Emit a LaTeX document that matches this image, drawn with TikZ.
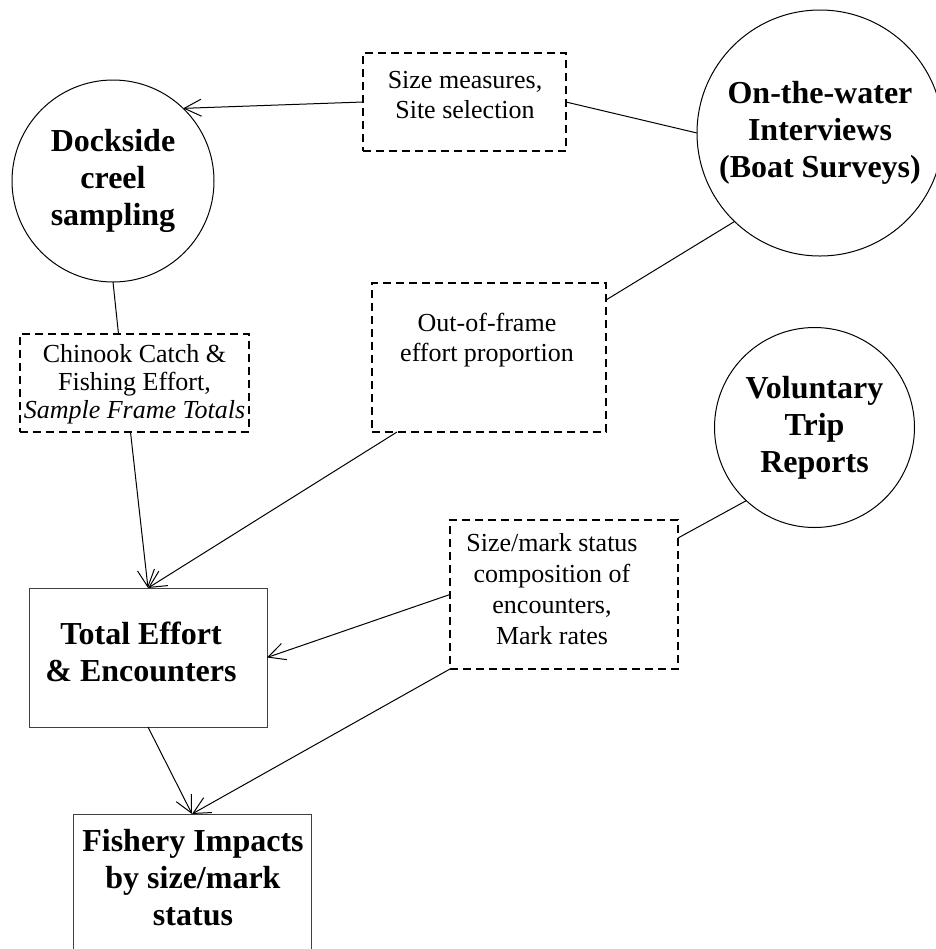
\documentclass[tikz,border=0pt]{standalone}
\usepackage{fontspec}
\setmainfont{Liberation Serif}
\usetikzlibrary{arrows.meta,calc}
\begin{document}
\begin{tikzpicture}[x=0.5pt,y=-0.5pt,
  every node/.style={inner sep=0pt, outer sep=0pt},
  boldtxt/.style={align=center, font=\fontsize{16}{18.5}\selectfont\bfseries},
  circ/.style={circle, draw, line width=0.5pt, boldtxt},
  sbox/.style={rectangle, draw=black!75, line width=0.5pt},
  dbox/.style={rectangle, draw, line width=1pt, dash pattern=on 4pt off 2.5pt},
  txt/.style={align=center, font=\fontsize{13}{15}\selectfont},
  arr/.style={-{Straight Barb[length=8.5pt,width=8.5pt]}, line width=0.5pt},
  conn/.style={line width=0.5pt}]
\clip (0,0) rectangle (936,949);
% circles
\node[circ, minimum size=101pt] (dock) at (113,181) {Dockside\\creel\\sampling};
\node[circ, minimum size=123pt] (otw) at (820,133) {On-the-water\\Interviews\\(Boat Surveys)};
\node[circ, minimum size=100pt] (vol) at (814.5,427.5) {Voluntary\\Trip\\Reports};
% dashed boxes
\node[dbox, minimum width=101.5pt, minimum height=49pt] (size) at (464.5,102) {};
\node[txt] (sizet) at (465,95) {Size measures,\\Site selection};
\node[dbox, minimum width=117pt, minimum height=74.5pt] (oof) at (489,357.5) {};
\node[txt] (ooft) at (487,340) {Out-of-frame\\effort proportion};
\node[dbox, minimum width=114.5pt, minimum height=49pt] (chin) at (134.5,383) {};
\node[txt, font=\fontsize{13}{14}\selectfont] (chint) at (134.5,384) {Chinook Catch \&\\Fishing Effort,\\\textit{Sample Frame Totals}};
\node[dbox, minimum width=114pt, minimum height=74.5pt] (sm) at (564,594.5) {};
\node[txt, font=\fontsize{13}{15.5}\selectfont] (smt) at (552,589) {Size/mark status\\composition of\\encounters,\\Mark rates};
% solid boxes
\node[sbox, minimum width=119pt, minimum height=69.5pt] (tot) at (148,657.5) {};
\node[boldtxt] (tott) at (141,652) {Total Effort\\\& Encounters};
\node[sbox, minimum width=119pt, minimum height=71pt] (fish) at (192,885) {};
\node[boldtxt] (fisht) at (193,878) {Fishery Impacts\\by size/mark\\status};
% connectors
\draw[arr] (size.west) -- (dock.46);
\draw[conn] (size.east) -- (otw.west);
\draw[conn] ($(oof.north east)+(0,17)$) -- (otw.226);
\draw[conn] (dock.south) -- ($(chin.north)+(-16,0)$);
\draw[arr] ($(chin.south)+(-4,0)$) -- (tot.north);
\draw[arr] ($(oof.south west)+(25,0)$) -- (tot.north);
\draw[conn] (vol.227) -- ($(sm.north east)+(0,18)$);
\draw[arr] (sm.west) -- (tot.east);
\draw[arr] (sm.south west) -- (fish.north);
\draw[arr] (tot.south) -- (fish.north);
\end{tikzpicture}
\end{document}
